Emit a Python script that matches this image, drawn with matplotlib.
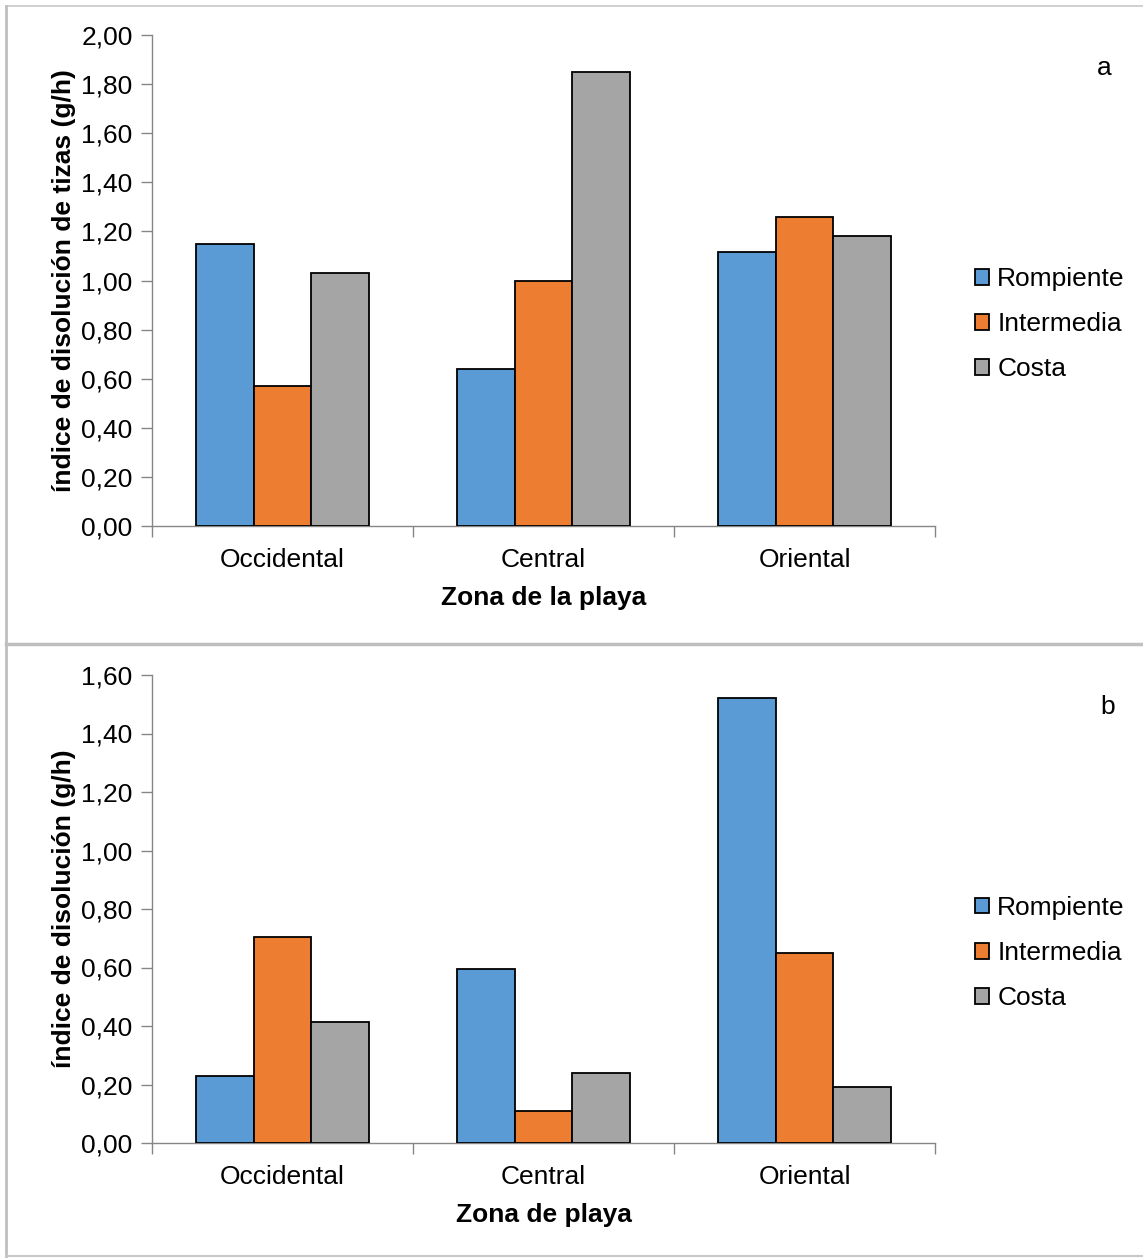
import matplotlib
matplotlib.use("Agg")
import matplotlib.pyplot as plt
from matplotlib.lines import Line2D
from matplotlib.ticker import FuncFormatter
import numpy as np

plt.rcParams['font.family'] = ['Liberation Sans', 'DejaVu Sans']

zones = ["Occidental", "Central", "Oriental"]
series = ["Rompiente", "Intermedia", "Costa"]
colors = ["#5B9BD5", "#ED7D31", "#A5A5A5"]

a_rompiente = [1.15, 0.64, 1.115]
a_intermedia = [0.57, 1.00, 1.26]
a_costa = [1.03, 1.85, 1.18]

b_rompiente = [0.23, 0.595, 1.52]
b_intermedia = [0.705, 0.11, 0.65]
b_costa = [0.415, 0.24, 0.19]

W, H = 1143, 1258
FS = 19
fig = plt.figure(figsize=(W / 100, H / 100), dpi=100)

def px_axes(left, top, right, bottom):
    return fig.add_axes([left / W, 1 - bottom / H, (right - left) / W, (bottom - top) / H])

def panel(ax, vals, ymax, ylabel, xlabel, letter, leg_y, let_xy):
    x = np.arange(len(zones))
    w = 0.222
    for i, (name, v) in enumerate(zip(series, vals)):
        ax.bar(x + (i - 1) * w, v, width=w, color=colors[i], edgecolor="black",
               linewidth=1.3, label=name, zorder=3)
    ax.set_xlim(-0.5, len(zones) - 0.5)
    ax.set_ylim(0, ymax)
    ax.set_yticks(np.arange(0, ymax + 1e-9, 0.2))
    ax.yaxis.set_major_formatter(FuncFormatter(lambda v, p: f"{v:.2f}".replace(".", ",")))
    ax.set_xticks(x)
    ax.set_xticklabels(zones)
    ax.set_xticks(np.arange(-0.5, len(zones), 1.0), minor=True)
    ax.tick_params(axis="x", which="major", length=0, pad=16, labelsize=FS)
    ax.tick_params(axis="x", which="minor", length=8, color="#868686", width=1)
    ax.tick_params(axis="y", length=8, color="#868686", width=1, labelsize=FS, pad=6)
    for s in ["top", "right"]:
        ax.spines[s].set_visible(False)
    for s in ["left", "bottom"]:
        ax.spines[s].set_color("#868686")
        ax.spines[s].set_linewidth(1)
    ax.set_ylabel(ylabel, fontsize=FS, fontweight="bold", labelpad=4)
    ax.set_xlabel(xlabel, fontsize=FS, fontweight="bold", labelpad=10)
    ax.legend(loc="center left", bbox_to_anchor=(1.051, leg_y), frameon=False,
              fontsize=FS, handlelength=0.55, handleheight=0.55, handletextpad=0.3,
              labelspacing=0.8, borderpad=0, borderaxespad=0)
    ax.text(let_xy[0], let_xy[1], letter, transform=ax.transAxes, fontsize=FS,
            ha="center", va="center")

ax1 = px_axes(152, 35, 935, 526)
panel(ax1, [a_rompiente, a_intermedia, a_costa], 2.0,
      "índice de disolución de tizas (g/h)", "Zona de la playa", "a", 0.411, (1.216, 0.933))

ax2 = px_axes(152, 675, 935, 1143)
panel(ax2, [b_rompiente, b_intermedia, b_costa], 1.6,
      "índice de disolución (g/h)", "Zona de playa", "b", 0.406, (1.22, 0.932))

# frame lines
def fline(x0, y0, x1, y1, lw=2, c="#BFBFBF"):
    fig.add_artist(Line2D([x0 / W, x1 / W], [1 - y0 / H, 1 - y1 / H], color=c, lw=lw))

fline(6, 6, W, 6, lw=1.2, c="#C8C8C8")
fline(6, 6, 6, H, lw=2)
fline(6, 644, W, 644, lw=2.5)
fline(6, H - 2, W, H - 2, lw=1.5, c="#C8C8C8")

fig.savefig("out.png", dpi=100)
